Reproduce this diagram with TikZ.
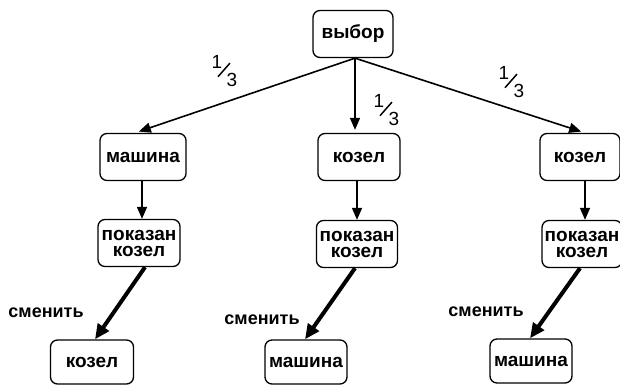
\documentclass[tikz,border=0pt]{standalone}
\usepackage{fontspec}
\setmainfont{Liberation Sans}
\usetikzlibrary{arrows.meta}
\begin{document}
\begin{tikzpicture}[x=1pt,y=-1pt,
  box/.style={draw,line width=1.3pt,rounded corners=7pt,inner sep=0pt,
    minimum width=#1,minimum height=47pt,font=\bfseries\fontsize{19}{16}\selectfont,
    align=center},
  box/.default=82pt,
  thin/.style={line width=1.6pt,-{Triangle[length=12pt,width=10pt]}},
  thick/.style={line width=4pt,-{Triangle[length=15pt,width=13pt]}},
  lbl/.style={font=\bfseries\fontsize{18}{18}\selectfont,inner sep=0pt},
  digit/.style={font=\fontsize{19}{19}\selectfont,inner sep=0pt},
  slash/.style={line width=1.5pt}]
\useasboundingbox (0,0) rectangle (620,385);

% root
\node[box=80pt] (top) at (353,34) {выбор};

% first level
\node[box=86pt] (l1) at (143,157) {машина};
\node[box=82pt] (m1) at (359,157) {козел};
\node[box=80pt] (r1) at (580,157) {козел};

% second level
\node[box=82pt] (l2) at (139,243) {показан\\козел};
\node[box=81pt] (m2) at (357,244) {показан\\козел};
\node[box=80pt] (r2) at (582,244) {показан\\козел};

% outcomes
\node[box=83pt,minimum height=44pt] (l3) at (92,362) {козел};
\node[box=82pt,minimum height=44pt] (m3) at (306,362) {машина};
\node[box=82pt,minimum height=44pt] (r3) at (531,361) {машина};

% branches from the root
\coordinate (hub) at ([xshift=2pt]top.south);
\draw[thin,shorten >=4pt] (hub) -- ([xshift=-8pt]l1.north);
\draw[thin,shorten >=3pt] (hub) -- ([xshift=-4pt]m1.north);
\draw[thin,shorten >=4pt] (hub) -- ([xshift=5pt]r1.north);

% probabilities 1/3
\foreach \n/\x/\y in {p1/225/71, p2/387/110, p3/512/82}{
  \node[digit] (\n a) at (\x-8,\y-9) {1};
  \node[digit] (\n b) at (\x+7,\y+9) {3};
  \draw[slash] ([shift={(1pt,-8pt)}]\n a.south) -- ([shift={(-2pt,10pt)}]\n b.north);
}

% host opens a door
\draw[thin] ([xshift=-1pt]l1.south) -- ([xshift=3pt]l2.north);
\draw[thin] ([xshift=-2pt]m1.south) -- (m2.north);
\draw[thin] ([xshift=5pt]r1.south) -- ([xshift=3pt]r2.north);

% switching
\draw[thick] ([xshift=6pt]l2.south) -- ([xshift=3pt]l3.north);
\draw[thick] ([xshift=-2pt]m2.south) -- ([xshift=-1pt]m3.north);
\draw[thick] ([xshift=-2pt]r2.south) -- ([xshift=-1pt]r3.north);

\node[lbl] (s1) at (46,313) {сменить};
\node[lbl] (s2) at (262,320) {сменить};
\node[lbl] (s3) at (486,312) {сменить};
\end{tikzpicture}
\end{document}
